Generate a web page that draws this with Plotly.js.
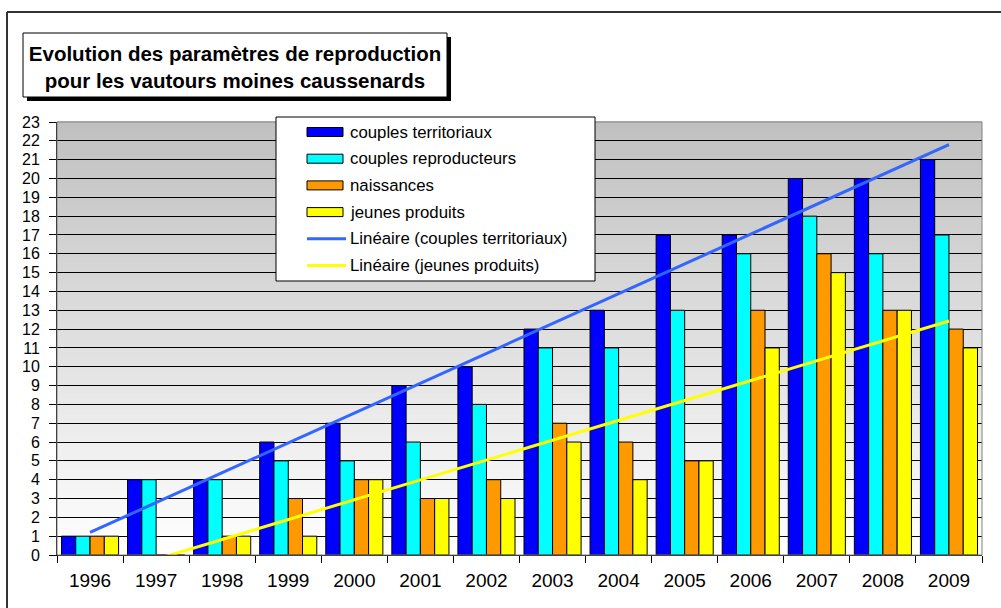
<!DOCTYPE html>
<html>
<head>
<meta charset="utf-8">
<script src="https://cdn.plot.ly/plotly-3.0.1.min.js"></script>
<style>html,body{margin:0;padding:0;background:#fff;}#chart{width:1001px;height:608px;}</style>
</head>
<body>
<div id="chart"></div>
<script>
// ---- data ----
const years = ['1996','1997','1998','1999','2000','2001','2002','2003','2004','2005','2006','2007','2008','2009'];
const territoriaux  = [1, 4, 4, 6, 7, 9, 10, 12, 13, 17, 17, 20, 20, 21];
const reproducteurs = [1, 4, 4, 5, 5, 6, 8, 11, 11, 13, 16, 18, 16, 17];
const naissances    = [1, 0, 1, 3, 4, 3, 4, 7, 6, 5, 13, 16, 13, 12];
const jeunes        = [1, 0, 1, 1, 4, 3, 3, 6, 4, 5, 11, 15, 13, 11];
const seriesNames = ['couples territoriaux', 'couples reproducteurs', 'naissances', 'jeunes produits'];
const trendNames = ['Linéaire (couples territoriaux)', 'Linéaire (jeunes produits)'];
const yTicks = Array.from({length: 24}, (_, i) => i);
const titleText = 'Evolution des paramètres de reproduction<br>pour les vautours moines caussenards';

// ---- styles ----
const barColors = ['#0000FF', '#00FFFF', '#FF9900', '#FFFF00'];
const trendColors = ['#3366FF', '#FFFF00'];
const FONT = 'Liberation Sans, Arial, sans-serif';

// least-squares linear trend (as the spreadsheet trendline does)
function linearTrend(vals) {
  const n = vals.length;
  let sx = 0, sy = 0, sxy = 0, sxx = 0;
  vals.forEach((v, i) => { sx += i; sy += v; sxy += i * v; sxx += i * i; });
  const slope = (n * sxy - sx * sy) / (n * sxx - sx * sx);
  const icpt = (sy - slope * sx) / n;
  return vals.map((_, i) => icpt + slope * i);
}

const barSeries = [territoriaux, reproducteurs, naissances, jeunes];
const traces = barSeries.map((vals, k) => ({
  type: 'bar', x: years, y: vals, name: seriesNames[k],
  marker: {color: barColors[k], line: {color: '#000', width: 1}},
  showlegend: false, hoverinfo: 'x+y+name'
}));
[territoriaux, jeunes].forEach((vals, k) => {
  traces.push({
    type: 'scatter', mode: 'lines', x: years, y: linearTrend(vals), name: trendNames[k],
    line: {color: trendColors[k], width: 3}, showlegend: false
  });
});

// ---- pixel helpers for decorations ----
const M = {l: 57, r: 19, t: 122, b: 53};
const PW = 1001 - M.l - M.r, PH = 608 - M.t - M.b;
const px = v => (v - M.l) / PW;
const py = v => (608 - M.b - v) / PH;

const shapes = [];
// background vertical gradient (grey at top to white at bottom)
const NS = 80;
for (let i = 0; i < NS; i++) {
  const t = (i + 0.5) / NS;           // 0 bottom -> 1 top
  const c = Math.round(255 - 63 * t);
  shapes.push({type: 'rect', xref: 'paper', yref: 'paper', x0: 0, x1: 1,
    y0: i / NS, y1: (i + 1) / NS + 0.002, layer: 'below',
    fillcolor: `rgb(${c},${c},${c})`, line: {width: 0}});
}
// plot area border
shapes.push({type: 'rect', xref: 'paper', yref: 'paper', x0: 0, x1: 1, y0: 0, y1: 1,
  layer: 'above', line: {color: '#808080', width: 1}, fillcolor: 'rgba(0,0,0,0)'});
// outer chart frame (only top and left edges fall inside the picture)
shapes.push({type: 'line', xref: 'paper', yref: 'paper', x0: px(7), x1: px(1001), y0: py(12), y1: py(12),
  layer: 'above', line: {color: '#333', width: 2}});
shapes.push({type: 'line', xref: 'paper', yref: 'paper', x0: px(7), x1: px(7), y0: py(12), y1: py(608),
  layer: 'above', line: {color: '#333', width: 2}});
// title box with shadow
shapes.push({type: 'rect', xref: 'paper', yref: 'paper', x0: px(27), x1: px(451), y0: py(37), y1: py(101),
  layer: 'above', line: {width: 0}, fillcolor: '#000'});
shapes.push({type: 'rect', xref: 'paper', yref: 'paper', x0: px(23), x1: px(447), y0: py(33), y1: py(97),
  layer: 'above', line: {color: '#000', width: 1}, fillcolor: '#fff'});
// legend box
shapes.push({type: 'rect', xref: 'paper', yref: 'paper', x0: px(276), x1: px(595), y0: py(117), y1: py(281),
  layer: 'above', line: {color: '#000', width: 1}, fillcolor: '#fff'});

const annotations = [];
const legendNames = seriesNames.concat(trendNames);
legendNames.forEach((nm, i) => {
  const cy = 132 + i * 26.7;
  if (i < 4) {
    shapes.push({type: 'rect', xref: 'paper', yref: 'paper', x0: px(307), x1: px(343),
      y0: py(cy - 4.5), y1: py(cy + 4.5), layer: 'above',
      line: {color: '#000', width: 1}, fillcolor: barColors[i]});
  } else {
    shapes.push({type: 'line', xref: 'paper', yref: 'paper', x0: px(307), x1: px(346),
      y0: py(cy), y1: py(cy), layer: 'above',
      line: {color: trendColors[i - 4], width: 3}});
  }
  annotations.push({xref: 'paper', yref: 'paper', x: px(348), y: py(cy), xanchor: 'left', yanchor: 'middle',
    text: nm, showarrow: false, font: {family: FONT, size: 16.8, color: '#000'}});
});

const layout = {
  width: 1001, height: 608,
  margin: M,
  paper_bgcolor: '#fff', plot_bgcolor: 'rgba(0,0,0,0)',
  font: {family: FONT, size: 19, color: '#000'},
  title: {text: titleText, xref: 'paper', yref: 'paper', x: px(235), y: py(67),
    xanchor: 'center', yanchor: 'middle',
    font: {family: FONT, size: 20.5, weight: 700, color: '#000'}},
  barmode: 'group', bargap: 0.136, bargroupgap: 0,
  xaxis: {type: 'category', tickson: 'boundaries', ticks: 'outside', ticklen: 7, tickcolor: '#000',
    showline: true, linecolor: '#000', linewidth: 1, showgrid: false, zeroline: false,
    tickfont: {family: FONT, size: 19, color: '#000'}, ticklabelstandoff: 8, fixedrange: true},
  yaxis: {range: [0, 23], tickvals: yTicks, ticks: 'outside', ticklen: 7, tickcolor: '#000',
    showline: true, linecolor: '#000', linewidth: 1, showgrid: true, gridcolor: '#000', gridwidth: 1,
    zeroline: false, tickfont: {family: FONT, size: 16, color: '#000'}, ticklabelstandoff: 6, fixedrange: true},
  shapes: shapes, annotations: annotations, showlegend: false
};

Plotly.newPlot('chart', traces, layout, {displayModeBar: false, staticPlot: true});
</script>
</body>
</html>
